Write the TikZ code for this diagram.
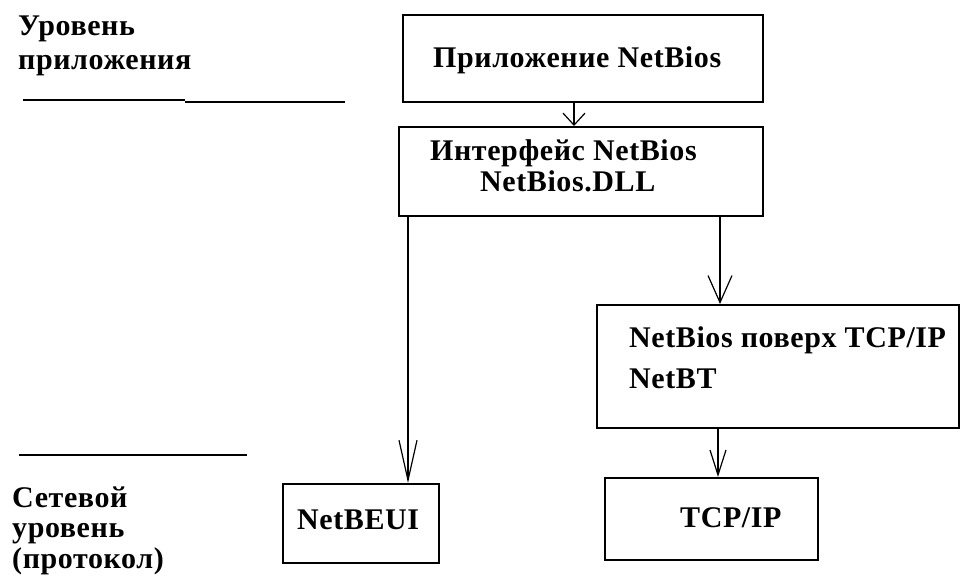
\documentclass[tikz,border=0pt]{standalone}
\usepackage{fontspec}
\setmainfont{Liberation Serif}[LetterSpace=2]
\usetikzlibrary{arrows.meta}
\begin{document}
\begin{tikzpicture}[x=1pt,y=-1pt,
  box/.style={draw,line width=1.5pt,rectangle,inner sep=0pt,anchor=north west},
  txt/.style={font=\fontsize{30}{34}\selectfont\bfseries,inner sep=0pt,anchor=base west},
  conn/.style={line width=1.5pt},
  barbS/.style={conn,-{Straight Barb[length=12,width=22,line width=1.2pt]}},
  barbL/.style={conn,-{Straight Barb[length=40,width=18,line width=1.2pt]}},
  barbM/.style={conn,-{Straight Barb[length=27,width=24,line width=1.2pt]}},
  barbT/.style={conn,-{Straight Barb[length=25,width=16,line width=1.2pt]}},
  rule/.style={line width=1.5pt}]
\useasboundingbox (0,0) rectangle (962,579);

% boxes
\node[box,minimum width=360,minimum height=87] (app) at (402,14) {};
\node[box,minimum width=364,minimum height=89] (api) at (398,126) {};
\node[box,minimum width=362,minimum height=123] (nbt) at (596,304) {};
\node[box,minimum width=156,minimum height=79] (beui) at (282,483) {};
\node[box,minimum width=213,minimum height=82] (tcp) at (604,477) {};

% box texts
\node[txt] (tapp) at (433,67) {Приложение NetBios};
\node[txt] (tapi1) at (430,160) {Интерфейс NetBios};
\node[txt] (tapi2) at (480,191) {NetBios.DLL};
\node[txt] (tnbt1) at (629,347) {NetBios поверх TCP/IP};
\node[txt] (tnbt2) at (629,388) {NetBT};
\node[txt] (tbeui) at (297,529) {NetBEUI};
\node[txt] (ttcp) at (680,527) {TCP/IP};

% level captions
\node[txt] (lapp1) at (18,35) {Уровень};
\node[txt] (lapp2) at (18,69) {приложения};
\node[txt] (lnet1) at (12,507) {Сетевой};
\node[txt] (lnet2) at (12,537) {уровень};
\node[txt] (lnet3) at (12,568) {(протокол)};

% level separators
\coordinate (r1a) at (23,100);
\coordinate (r1b) at (185,100);
\coordinate (r1c) at (185,102);
\coordinate (r1d) at (345,102);
\coordinate (r2a) at (19,455);
\coordinate (r2b) at (247,455);
\draw[rule] (r1a) -- (r1b);
\draw[rule] (r1c) -- (r1d);
\draw[rule] (r2a) -- (r2b);

% connectors
\draw[barbS] ([xshift=172]app.south west) -- ([xshift=172]app.south west |- api.north);
\draw[barbL] ([xshift=10]api.south west) -- ([xshift=10]api.south west |- beui.north);
\draw[barbM] ([xshift=322]api.south west) -- ([xshift=322]api.south west |- nbt.north);
\draw[barbT] ([xshift=122]nbt.south west) -- ([xshift=122]nbt.south west |- tcp.north);
\end{tikzpicture}
\end{document}
